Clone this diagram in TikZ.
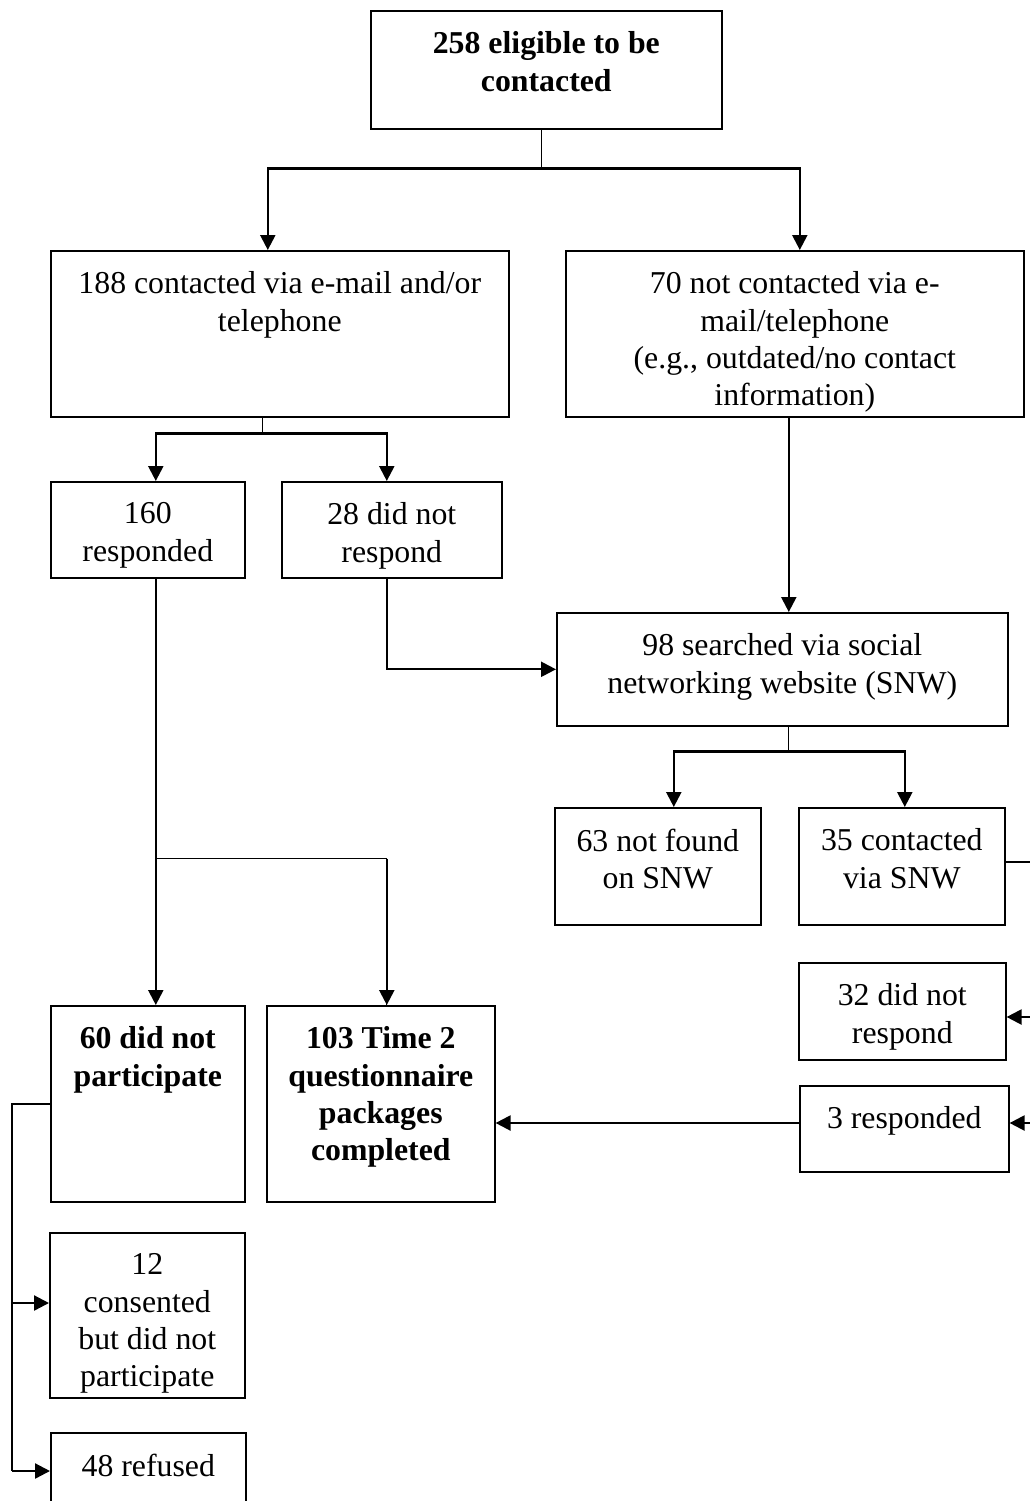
\documentclass[tikz,border=0pt]{standalone}
\usepackage{fontspec}
\setmainfont{Liberation Serif}
\usetikzlibrary{arrows.meta,calc}
\newcommand{\tb}[3]{\parbox[c][#2pt][t]{#1pt}{\centering\vspace*{21pt}#3\par}}
\tikzset{
  box/.style={draw, line width=1.6pt, inner sep=0pt, anchor=north west,
    font=\fontsize{31.8}{37.3}\selectfont},
  ln/.style={line width=2.3pt},
  thinln/.style={line width=1.3pt},
  arr/.style={line width=2.3pt, -{Triangle[length=15pt,width=15pt]}}
}
\begin{document}
\begin{tikzpicture}[x=1pt,y=-1pt]
\useasboundingbox (0,0) rectangle (1030,1501);
\fill[white] (0,0) rectangle (1030,1501);

\node[box] (T) at (370,10) {\tb{351}{118}{\bfseries 258 eligible to be\\contacted}};
\node[box] (A) at (50,250) {\tb{458}{166}{188 contacted via e-mail and/or\\telephone}};
\node[box] (B) at (565,250) {\tb{458}{166}{70 not contacted via e-\\mail/telephone\\(e.g., outdated/no contact\\information)}};
\node[box] (C) at (50,481) {\tb{194}{96}{160\\responded}};
\node[box] (D) at (281,481) {\tb{220}{96}{28 did not\\respond}};
\node[box] (E) at (556,612) {\tb{451}{113}{98 searched via social\\networking website (SNW)}};
\node[box] (F) at (554,807) {\tb{206}{117}{63 not found\\on SNW}};
\node[box] (G) at (798,807) {\tb{206}{117}{35 contacted\\via SNW}};
\node[box] (H) at (798,962) {\tb{207}{97}{32 did not\\respond}};
\node[box] (I) at (799,1085) {\tb{209}{86}{3 responded}};
\node[box] (J) at (50,1005) {\tb{194}{196}{\bfseries 60 did not\\participate}};
\node[box] (K) at (266,1005) {\tb{228}{196}{\bfseries 103 Time 2\\questionnaire\\packages\\completed}};
\node[box] (L) at (49,1232) {\tb{195}{165}{12\\consented\\but did not\\participate}};
\node[box] (M) at (50,1432) {\tb{195}{90}{48 refused}};

% top split
\coordinate (s1) at ($(T.south)+(-5,39)$);
\draw[thinln] ([xshift=-5pt]T.south) -- (s1);
\draw[arr] (s1) -| ([xshift=-12pt]A.north);
\draw[arr] (s1) -| ([xshift=5pt]B.north);

% A split
\coordinate (s2) at ($(A.south)+(-17,16)$);
\draw[thinln] ([xshift=-17pt]A.south) -- (s2);
\draw[arr] (s2) -| ([xshift=8pt]C.north);
\draw[arr] (s2) -| ([xshift=-5pt]D.north);

% D to E
\draw[arr] ([xshift=-5pt]D.south) |- (E.west);
% B to E
\draw[arr] ([xshift=-6pt]B.south) -- ([xshift=-6pt]B.south |- E.north);

% E split
\coordinate (s3) at ($(E.south)+(6,25)$);
\draw[thinln] ([xshift=6pt]E.south) -- (s3);
\draw[arr] (s3) -| ([xshift=16pt]F.north);
\draw[arr] (s3) -| ([xshift=3pt]G.north);

% G to right side, back to H and I
\coordinate (g1) at (1045,862);
\coordinate (g2) at (1045,1123);
\coordinate (g3) at (1045,1017);
\draw[ln] (g1 -| G.east) -- (g1) -- (g2);
\draw[arr] (g3) -- (g3 -| H.east);
\draw[arr] (g2) -- (g2 -| I.east);

% I to K
\draw[arr] (g2 -| I.west) -- (g2 -| K.east);

% C down to J and K
\coordinate (s4) at ($(C.south)+(8,280)$);
\draw[arr] ([xshift=8pt]C.south) -- ([xshift=8pt]J.north);
\draw[thinln] (s4) -| ([xshift=6pt]K.north);
\draw[arr] ([xshift=6pt]K.north |- s4) -- ([xshift=6pt]K.north);

% J to L and M
\coordinate (j1) at (J.west -| 12,0);
\coordinate (j2) at (12,1303);
\coordinate (j3) at (12,1471);
\draw[ln] (J.west) -- (j1) -- (j3);
\draw[arr] (j2) -- (j2 -| L.west);
\draw[arr] (j3) -- (j3 -| M.west);
\end{tikzpicture}
\end{document}
